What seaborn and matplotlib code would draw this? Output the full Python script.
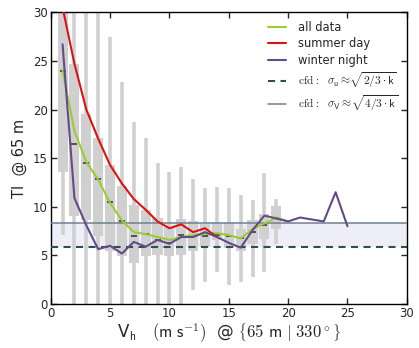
import numpy as np
import pandas as pd
import matplotlib
matplotlib.use('Agg')
import matplotlib.pyplot as plt
import seaborn as sns

# wind speed bins (m/s) and TI box statistics per bin
ws_bins = [1, 2, 3, 4, 5, 6, 7, 8, 9, 10, 11, 12, 13, 14, 15, 16, 17, 18, 19]
ti_lo  = [7.1, 0, 0, 0, 0, 0, 0, 0, 0, 0, 0, 1.5, 2.3, 3.3, 2.0, 2.3, 2.8, 3.3, 6.2]
ti_q1  = [13.6, 9.1, 8.6, 7.0, 5.5, 4.9, 4.2, 4.9, 5.1, 4.9, 5.1, 5.5, 5.9, 6.6, 5.8, 5.5, 6.2, 6.7, 7.7]
ti_med = [24.0, 16.5, 14.5, 12.9, 10.5, 8.5, 7.0, 7.2, 6.6, 6.3, 7.1, 7.0, 7.0, 7.1, 7.0, 6.8, 7.4, 8.1, 8.9]
ti_q3  = [32.0, 24.7, 19.5, 17.1, 14.3, 12.1, 10.2, 9.7, 8.9, 7.9, 8.8, 8.5, 8.2, 8.3, 8.3, 7.7, 8.6, 9.3, 10.1]
ti_hi  = [33.0, 33.0, 33.0, 33.0, 27.5, 22.8, 18.7, 17.1, 14.5, 13.6, 14.1, 12.9, 11.9, 12.0, 11.9, 11.2, 10.7, 13.5, 10.8]

# mean TI curves
ws_all = [1, 2, 3, 4, 5, 6, 7, 8, 9, 10, 11, 12, 13, 14, 15, 16, 17, 18, 19, 20]
ti_all = [24.0, 17.8, 14.6, 12.8, 10.4, 8.6, 7.4, 7.2, 6.9, 6.6, 6.9, 7.1, 7.2, 7.3, 7.1, 6.75, 7.7, 8.3, 8.9, 8.5]

ws_summer = [1, 2, 3, 4, 5, 6, 7, 8, 9, 10, 11, 12, 13, 14]
ti_summer = [30.5, 24.7, 20.0, 17.0, 14.3, 12.4, 10.8, 9.7, 8.5, 7.8, 8.2, 7.4, 7.8, 6.9]

ws_winter = [1, 2, 3, 4, 5, 6, 7, 8, 9, 10, 11, 12, 13, 14, 15, 16, 17, 18, 19, 20, 21, 22, 23, 24, 25]
ti_winter = [26.7, 10.9, 8.1, 5.65, 6.0, 5.2, 6.4, 5.9, 6.6, 6.2, 6.9, 6.9, 7.4, 6.9, 6.3, 5.8, 7.6, 9.1, 8.8, 8.5, 8.9, 8.7, 8.5, 11.5, 8.0]

# cfd estimates
sigma_u = 5.9
sigma_v = 8.3

sns.set_style('ticks')
plt.rcParams['font.family'] = ['DejaVu Sans']
plt.rcParams['mathtext.fontset'] = 'cm'

# 5 values per bin -> with whis=(0,100) the box shows exactly these stats
box_df = pd.DataFrame({
    'ws': np.repeat(ws_bins, 5),
    'ti': np.column_stack([ti_lo, ti_q1, ti_med, ti_q3, ti_hi]).ravel(),
})

fig, ax = plt.subplots(figsize=(4.19, 3.48), dpi=100)
fig.subplots_adjust(left=0.121, right=0.971, top=0.965, bottom=0.126)

ax.axhspan(sigma_u, sigma_v, color='#eeeef9', lw=0, zorder=0)

med_color = '#3a3a3a'
sns.boxplot(data=box_df, x='ws', y='ti', native_scale=True, whis=(0, 100),
            width=0.85, color='#d0d0d0', saturation=1, showfliers=False,
            boxprops=dict(edgecolor='none', linewidth=0),
            whiskerprops=dict(color='#d0d0d0', linewidth=2.6),
            capprops=dict(visible=False),
            medianprops=dict(color=med_color, linewidth=1.2),
            ax=ax)

# shorten the median dashes to the middle of each box
for ln in ax.lines:
    if matplotlib.colors.to_hex(ln.get_color()) == med_color:
        xd = np.asarray(ln.get_xdata(), dtype=float)
        c = xd.mean()
        half = (xd.max() - xd.min()) * 0.3
        ln.set_xdata([c - half, c + half])

ax.axhline(sigma_v, color='#708090', lw=1.1, zorder=3)
ax.axhline(sigma_u, color='#2f4f4f', lw=1.5, ls='--', dashes=(3.4, 2.6), zorder=3)

sns.lineplot(x=ws_all, y=ti_all, color='#9acd32', lw=1.5, ax=ax, zorder=4)
sns.lineplot(x=ws_summer, y=ti_summer, color='#dd1111', lw=1.5, ax=ax, zorder=5)
sns.lineplot(x=ws_winter, y=ti_winter, color='#654a8a', lw=1.5, ax=ax, zorder=6)

handles = [
    plt.Line2D([], [], color='#9acd32', lw=1.5),
    plt.Line2D([], [], color='#dd1111', lw=1.5),
    plt.Line2D([], [], color='#654a8a', lw=1.5),
    plt.Line2D([], [], color='#2f4f4f', lw=1.5, ls='--', dashes=(3.4, 2.6)),
    plt.Line2D([], [], color='#708090', lw=1.1),
]
labels = [
    'all data', 'summer day', 'winter night',
    r'$\mathrm{cfd:}\ \ \sigma_{\mathsf{u}} \approx\!\sqrt{2/3\cdot\mathsf{k}}$',
    r'$\mathrm{cfd:}\ \ \sigma_{\mathsf{V}} \approx\!\sqrt{4/3\cdot\mathsf{k}}$',
]
ax.legend(handles, labels, loc='upper right', frameon=False, fontsize=8.3,
          handlelength=1.5, handletextpad=1.1, labelspacing=0.3,
          borderaxespad=0.35)

ax.set_xlim(0, 30)
ax.set_ylim(0, 30)
ax.set_xticks([0, 5, 10, 15, 20, 25, 30])
ax.set_yticks([0, 5, 10, 15, 20, 25, 30])
ax.tick_params(direction='in', top=True, right=True, length=4, width=1,
               labelsize=8.5, pad=2)
for sp in ax.spines.values():
    sp.set_linewidth(1.0)
    sp.set_color('black')

ax.set_xlabel(r'V$_\mathsf{h}$   $(\mathsf{m\ s}^{-1})$  @ $\left\{65\ \mathsf{m}\ |\ 330^\circ\right\}$',
              fontsize=12, labelpad=1)
ax.set_ylabel('TI  @ 65 m', fontsize=10.5, labelpad=4)

fig.savefig('out.png', dpi=100)
